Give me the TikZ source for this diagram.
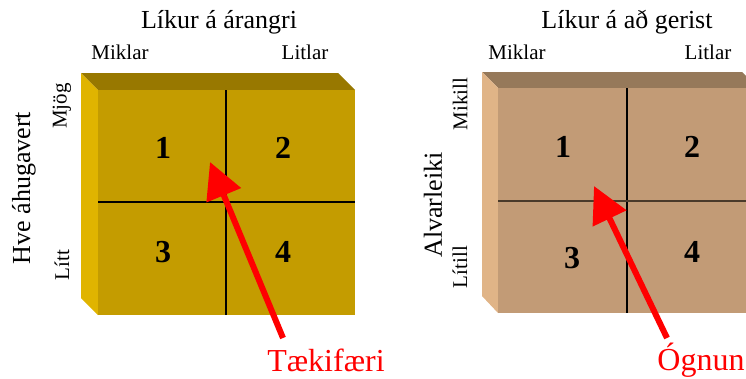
\documentclass[tikz,border=0pt]{standalone}
\usepackage{fontspec}
\setmainfont{Liberation Serif}
\usetikzlibrary{arrows.meta}
\definecolor{goldfront}{RGB}{196,156,0}
\definecolor{goldtop}{RGB}{152,120,0}
\definecolor{goldside}{RGB}{224,180,0}
\definecolor{tanfront}{RGB}{194,155,118}
\definecolor{tantop}{RGB}{150,121,90}
\definecolor{tanside}{RGB}{224,180,135}
\definecolor{tanline}{RGB}{74,58,42}

\begin{document}
\begin{tikzpicture}[x=1pt,y=-1pt,
  ttl/.style={font=\fontsize{26}{26}\selectfont},
  lbl/.style={font=\fontsize{21}{21}\selectfont},
  num/.style={font=\fontsize{32}{32}\selectfont\bfseries},
  redlbl/.style={text=red,font=\fontsize{32}{32}\selectfont},
  divider/.style={line width=1.2pt},
  bigarrow/.style={red,line width=6pt,-{Triangle[length=36pt,width=36pt]}}]
\clip (0,0) rectangle (746,378);
% left block
\fill[goldtop] (81,73)--(338,73)--(355,90)--(98,90)--cycle;
\fill[goldside] (81,73)--(98,90)--(98,315)--(81,298)--cycle;
\fill[goldfront] (98,90) rectangle (355,315);
\draw[divider] (226,90)--(226,315);
\draw[divider] (98,202)--(355,202);
\node[ttl] (tit1) at (219,22) {Líkur á árangri};
\node[lbl] (mik1) at (120,52) {Miklar};
\node[lbl] (lit1) at (305,52) {Litlar};
\node[ttl,rotate=90] (hve) at (24,188) {Hve áhugavert};
\node[lbl,rotate=90] (mjog) at (62,106) {Mjög};
\node[lbl,rotate=90] (litt) at (62,265) {Lítt};
\node[num] (a1) at (163,148) {1};
\node[num] (a2) at (283,148) {2};
\node[num] (a3) at (163,252) {3};
\node[num] (a4) at (283,252) {4};
\node[redlbl] (taek) at (326,360) {Tækifæri};
\coordinate (tail1) at (283,338);
\coordinate (tip1) at (210,162);
\draw[bigarrow] (tail1)--(tip1);
% right block
\fill[tantop] (482,72)--(742,72)--(759,88)--(498,88)--cycle;
\fill[tanside] (482,72)--(498,88)--(498,313)--(482,296)--cycle;
\fill[tanfront] (498,88) rectangle (759,313);
\draw[divider] (627,88)--(627,313);
\draw[divider,tanline] (498,201)--(759,201);
\node[ttl] (tit2) at (627,22) {Líkur á að gerist};
\node[lbl] (mik2) at (517,52) {Miklar};
\node[lbl] (lit2) at (708,52) {Litlar};
\node[ttl,rotate=90] (alv) at (433,205) {Alvarleiki};
\node[lbl,rotate=90] (mikill) at (460,104) {Mikill};
\node[lbl,rotate=90] (litill) at (460,267) {Lítill};
\node[num] (b1) at (563,147) {1};
\node[num] (b2) at (692,147) {2};
\node[num] (b3) at (572,258) {3};
\node[num] (b4) at (692,252) {4};
\node[redlbl] (ogn) at (701,360) {Ógnun};
\coordinate (tail2) at (667,338);
\coordinate (tip2) at (594,186);
\draw[bigarrow] (tail2)--(tip2);
\end{tikzpicture}
\end{document}
